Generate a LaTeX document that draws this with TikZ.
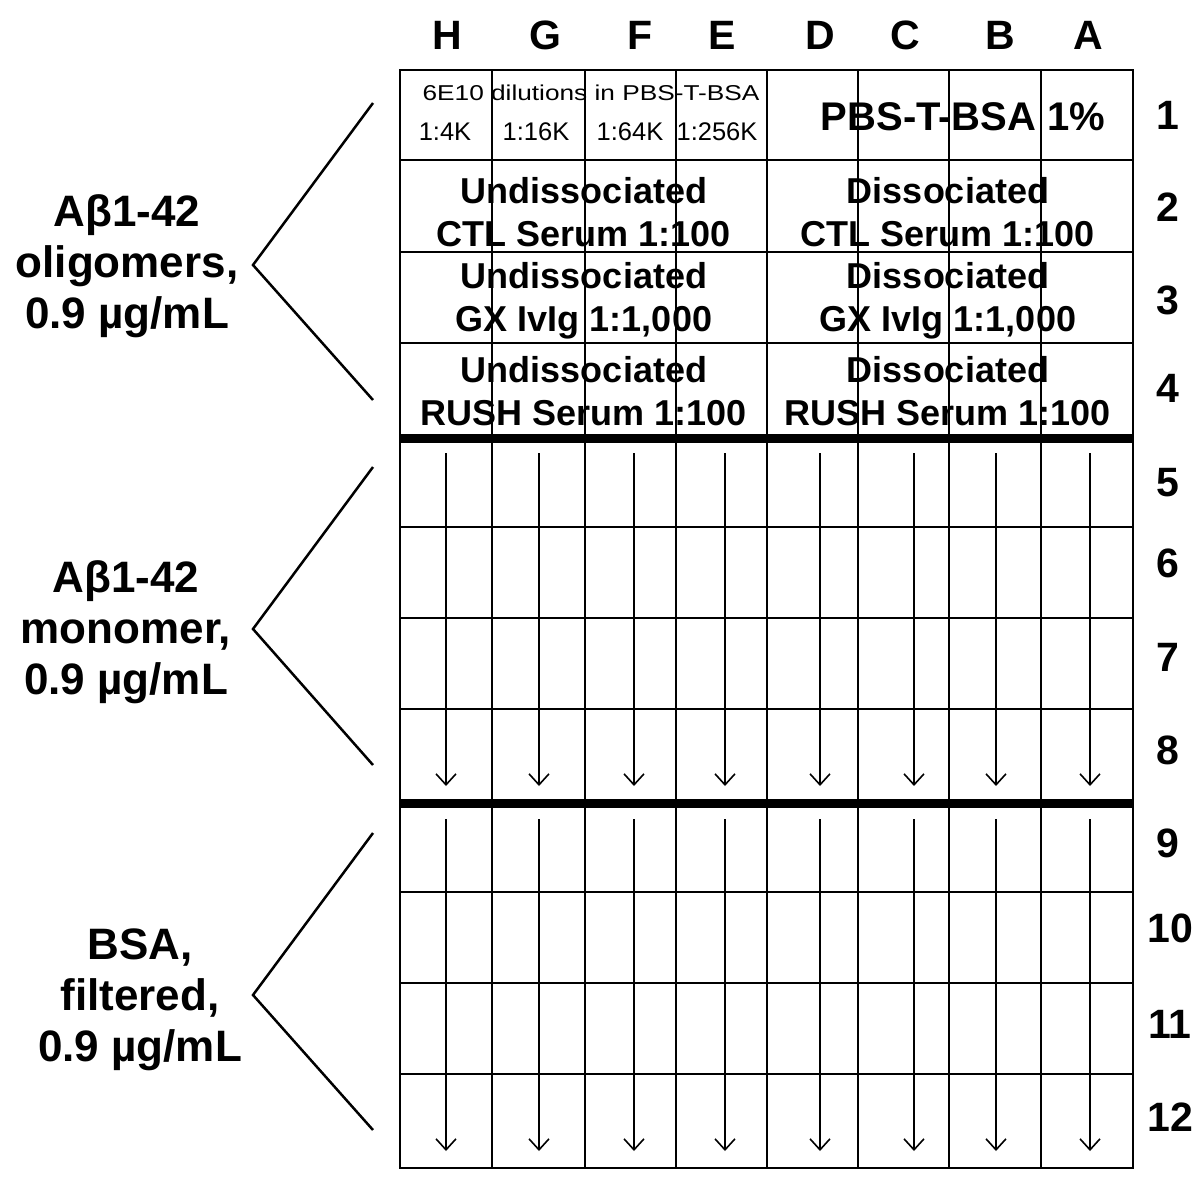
\documentclass[tikz,border=0pt]{standalone}
\usepackage{fontspec}
\usepackage{graphicx}
\setmainfont{Liberation Sans}
\usetikzlibrary{arrows.meta}
\begin{document}
\begin{tikzpicture}[x=1pt,y=-1pt,
  gridline/.style={line width=2pt},
  sepline/.style={line width=9pt},
  flowarr/.style={line width=1.6pt,-{Straight Barb[length=11pt,width=20pt,line width=1.6pt]}},
  brk/.style={line width=2.5pt,line join=miter},
  hdr/.style={font=\fontsize{41}{41}\selectfont\bfseries,inner sep=0pt},
  cell/.style={font=\fontsize{36}{43}\selectfont\bfseries,align=center,inner sep=0pt,text depth=0pt},
  side/.style={font=\fontsize{44}{51}\selectfont\bfseries,align=center,inner sep=0pt,text depth=0pt},
  small/.style={font=\fontsize{25.5}{25.5}\selectfont,inner sep=0pt},
  tiny/.style={font=\fontsize{21.5}{21.5}\selectfont,inner sep=0pt},
]
\useasboundingbox (0,0) rectangle (1200,1186);
\fill[white] (0,0) rectangle (1200,1186);

% column headers
\node[hdr] (colH) at (447,35) {H};
\node[hdr] (colG) at (545,35) {G};
\node[hdr] (colF) at (640,35) {F};
\node[hdr] (colE) at (722,35) {E};
\node[hdr] (colD) at (820,35) {D};
\node[hdr] (colC) at (905,35) {C};
\node[hdr] (colB) at (1000,35) {B};
\node[hdr] (colA) at (1088,35) {A};

% row numbers
\node[hdr] (row1) at (1168,115) {1};
\node[hdr] (row2) at (1168,207) {2};
\node[hdr] (row3) at (1168,300) {3};
\node[hdr] (row4) at (1168,388) {4};
\node[hdr] (row5) at (1168,483) {5};
\node[hdr] (row6) at (1168,563) {6};
\node[hdr] (row7) at (1168,657) {7};
\node[hdr] (row8) at (1168,750) {8};
\node[hdr] (row9) at (1168,843) {9};
\node[hdr] (row10) at (1170,928) {10};
\node[hdr] (row11) at (1170,1024) {11};
\node[hdr] (row12) at (1170,1117) {12};

% row 1 contents
\node[tiny] (dil) at (591,93) {\scalebox{1.22}[1]{6E10 dilutions in PBS-T-BSA}};
\node[small] (d4) at (445,132) {1:4K};
\node[small] (d16) at (536,132) {1:16K};
\node[small] (d64) at (630,132) {1:64K};
\node[small] (d256) at (717,132) {1:256K};
\node[font=\fontsize{40}{40}\selectfont\bfseries,inner sep=0pt] (pbs) at (963,117) {PBS-T-BSA 1\%};

% rows 2-4 contents
\node[cell] (u2) at (584,211.5) {Undissociated\\CTL Serum 1:100};
\node[cell] (ds2) at (948,211.5) {Dissociated\\CTL Serum 1:100};
\node[cell] (u3) at (584,296.5) {Undissociated\\GX IvIg 1:1,000};
\node[cell] (ds3) at (948,296.5) {Dissociated\\GX IvIg 1:1,000};
\node[cell] (u4) at (584,391) {Undissociated\\RUSH Serum 1:100};
\node[cell] (ds4) at (948,391) {Dissociated\\RUSH Serum 1:100};

% side labels
\node[side] (olig) at (127,262) {Aβ1-42\\oligomers,\\0.9 µg/mL};
\node[side] (mono) at (126,628) {Aβ1-42\\monomer,\\0.9 µg/mL};
\node[side] (bsa) at (140,995) {BSA,\\filtered,\\0.9 µg/mL};

% brackets
\draw[brk] (373,103) -- (253,265) -- (373,400);
\draw[brk] (373,467) -- (253,629) -- (373,765);
\draw[brk] (373,833) -- (253,995) -- (373,1130);

% grid
\foreach \yy in {70,160,252,343,527,618,709,892,983,1074,1168}
  \draw[gridline] (399,\yy) -- (1134,\yy);
\foreach \xx in {400,492,585,676,767,858,949,1041,1133}
  \draw[gridline] (\xx,69) -- (\xx,1169);
\draw[sepline] (399,438) -- (1134,438);
\draw[sepline] (399,803) -- (1134,803);

% arrows
\foreach \xx [count=\i] in {446,539,634,725,820,914,996,1090}{
  \coordinate (s5-\i) at (\xx,453);
  \coordinate (e8-\i) at (\xx,786);
  \coordinate (s9-\i) at (\xx,819);
  \coordinate (e12-\i) at (\xx,1151);
  \draw[flowarr] (s5-\i) -- (e8-\i);
  \draw[flowarr] (s9-\i) -- (e12-\i);
}
\end{tikzpicture}
\end{document}
